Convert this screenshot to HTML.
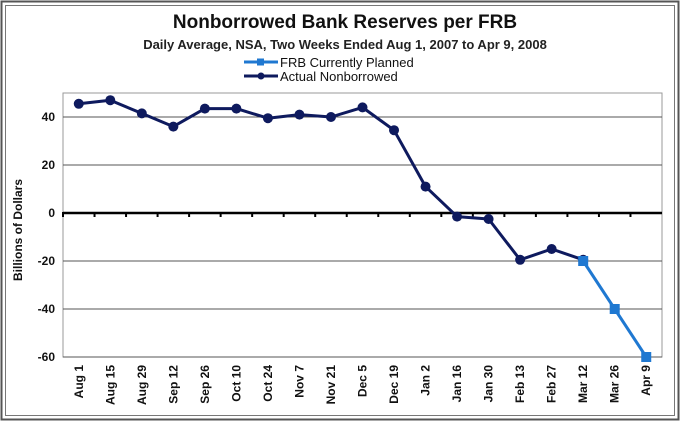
<!DOCTYPE html>
<html><head><meta charset="utf-8"><style>
body{margin:0;background:#fff;}
svg{display:block;font-family:"Liberation Sans",Arial,sans-serif;}
</style></head><body>
<svg id="c" width="680" height="421">
<rect x="1.5" y="1.5" width="677" height="418" fill="none" stroke="#555" stroke-width="2"/>
<rect x="5.5" y="5.5" width="669" height="410" fill="none" stroke="#777" stroke-width="1"/>
<text x="345" y="28" text-anchor="middle" font-size="19" font-weight="bold" fill="#111">Nonborrowed Bank Reserves per FRB</text>
<text x="345" y="49" text-anchor="middle" font-size="13" font-weight="bold" fill="#222">Daily Average, NSA, Two Weeks Ended Aug 1, 2007 to Apr 9, 2008</text>
<g>
<g>
<line x1="244" y1="62" x2="278" y2="62" stroke="#1f78d1" stroke-width="3"/>
<rect x="257" y="58.5" width="7" height="7" fill="#1f78d1"/>
<text x="280" y="67" font-size="13" fill="#111">FRB Currently Planned</text>
</g>
<g>
<line x1="244" y1="76" x2="278" y2="76" stroke="#0e1a5e" stroke-width="3"/>
<circle cx="261" cy="76" r="3.5" fill="#0e1a5e"/>
<text x="280" y="81" font-size="13" fill="#111">Actual Nonborrowed</text>
</g>
</g>
<rect x="63" y="93" width="599" height="264" fill="#fff" stroke="#999"/>
<text transform="translate(22,230) rotate(-90)" text-anchor="middle" font-size="12" font-weight="bold" fill="#111">Billions of Dollars</text>
<g id="grid"></g><g id="series"></g><g id="labels"></g>
</svg>
<script>
const categories=["Aug 1","Aug 15","Aug 29","Sep 12","Sep 26","Oct 10","Oct 24","Nov 7","Nov 21","Dec 5","Dec 19","Jan 2","Jan 16","Jan 30","Feb 13","Feb 27","Mar 12","Mar 26","Apr 9"];
const actualValues=[45.5,47,41.5,36,43.5,43.5,39.5,41,40,44,34.5,11,-1.5,-2.5,-19.5,-15,-19.5,null,null];
const plannedValues=[null,null,null,null,null,null,null,null,null,null,null,null,null,null,null,null,-20,-40,-60];
const yTicks=[40,20,0,-20,-40,-60];
const NS="http://www.w3.org/2000/svg";
const L=63,R=662,T=93,B=357,yMax=50,yMin=-60;
const step=(R-L)/categories.length;
function x(i){return L+step*(i+0.5);}
function y(v){return T+(yMax-v)*(B-T)/(yMax-yMin);}
function mk(tag,at,parent){const e=document.createElementNS(NS,tag);for(const k in at)e.setAttribute(k,at[k]);document.getElementById(parent).appendChild(e);return e;}
yTicks.forEach(t=>{
 const g=mk("line",{x1:L,x2:R,y1:y(t),y2:y(t),stroke:t===0?"#000":"#555","stroke-width":t===0?2.5:1},"grid");
 
 
 const tx=mk("text",{x:L-8,y:y(t)+4,"text-anchor":"end","font-size":12,"font-weight":"bold",fill:"#111"},"labels");
 tx.textContent=t;
 
 
});
categories.forEach((c,i)=>{
 const tk=mk("line",{x1:L+step*i,x2:L+step*i,y1:y(0)-1,y2:y(0)+4,stroke:"#000","stroke-width":2},"grid");
 
 
 const tx=mk("text",{transform:`translate(${x(i)+4},${B+8}) rotate(-90)`,"text-anchor":"end","font-size":12,"font-weight":"bold",fill:"#111"},"labels");
 tx.textContent=c;
 
 
});
function draw(vals,color,square,name){
 const pts=[];vals.forEach((v,i)=>{if(v!==null)pts.push([x(i),y(v)]);});
 const pl=mk("polyline",{points:pts.map(p=>p.join(",")).join(" "),fill:"none",stroke:color,"stroke-width":3,"stroke-linejoin":"round"},"series");
 
 
 pts.forEach(p=>{
  const m=square?mk("rect",{x:p[0]-5,y:p[1]-5,width:10,height:10,fill:color},"series"):mk("circle",{cx:p[0],cy:p[1],r:5,fill:color},"series");
  
  
 });
}
draw(actualValues,"#0e1a5e",false,"actual");
draw(plannedValues,"#1f78d1",true,"planned");
</script>
</body></html>
